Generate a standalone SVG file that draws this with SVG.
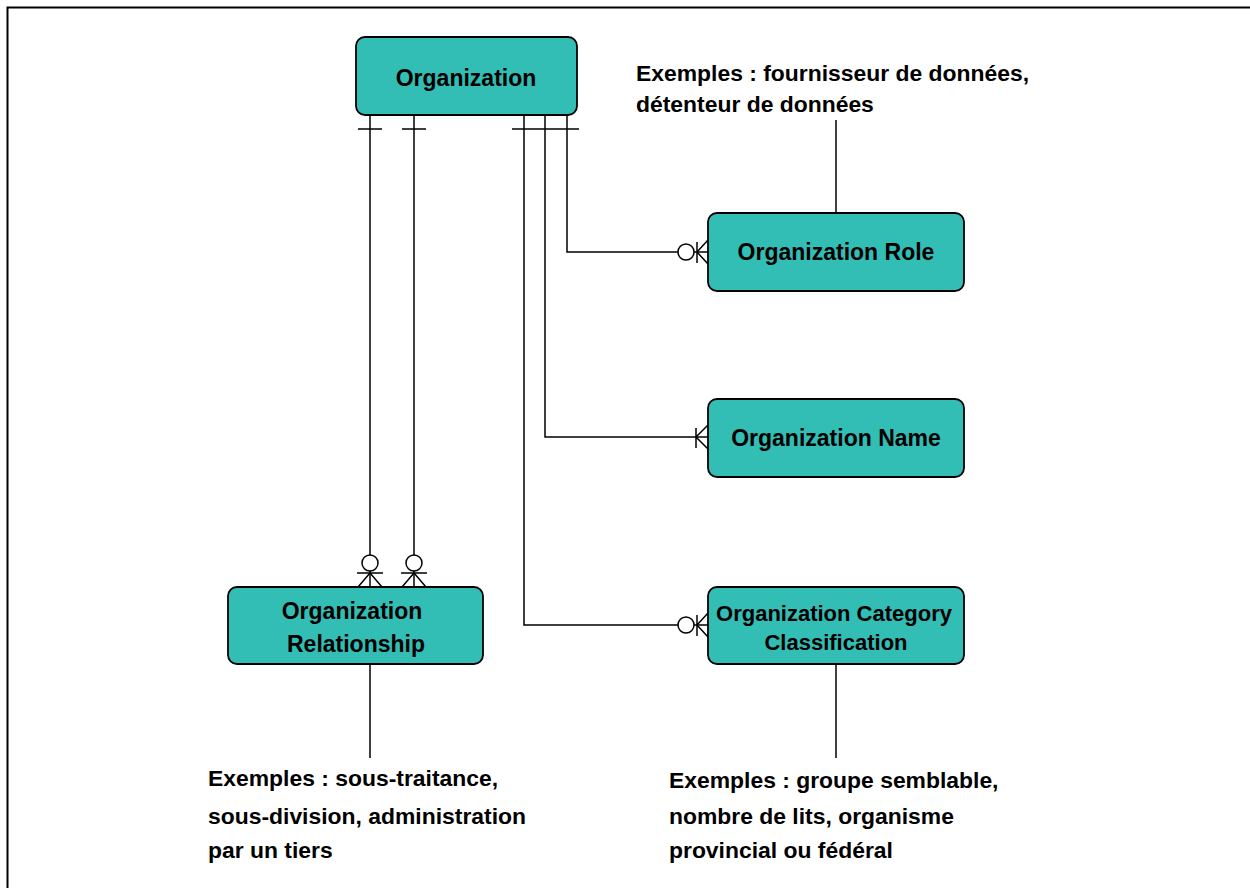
<svg xmlns="http://www.w3.org/2000/svg" width="1250" height="888" viewBox="0 0 1250 888">
<style>
.box{fill:#32bdb5;stroke:#000;stroke-width:1.8}
.t{font-family:"Liberation Sans",Arial,sans-serif;font-weight:bold;font-size:23px;fill:#000;text-anchor:middle}
.n{font-family:"Liberation Sans",Arial,sans-serif;font-weight:bold;font-size:22.9px;fill:#000}
.c{fill:none;stroke:#000;stroke-width:1.5}
</style>
<rect x="0" y="0" width="1250" height="888" fill="#fff"/>
<path d="M7.5,888 V7.5 H1250" fill="none" stroke="#000" stroke-width="2"/>
<g id="connectors" class="c">
  <path d="M370,115 V587"/>
  <path d="M414,115 V587"/>
  <path d="M358,129 H382 M402,129 H426"/>
  <path d="M512,129 H579"/>
  <path d="M567,115 V252 H708"/>
  <path d="M545,115 V437 H708"/>
  <path d="M524,115 V625 H708"/>
  <circle cx="370" cy="563" r="8" fill="#fff"/>
  <circle cx="414" cy="563" r="8" fill="#fff"/>
  <path d="M357,573 H383 M370,573 L358,587 M370,573 L382,587"/>
  <path d="M401,573 H427 M414,573 L402,587 M414,573 L426,587"/>
  <circle cx="686" cy="252" r="8" fill="#fff"/>
  <path d="M697,242 V263 M697,252 L708,240 M697,252 L708,264"/>
  <path d="M696,428 V448 M696,437 L708,425 M696,437 L708,449"/>
  <circle cx="686" cy="625" r="8" fill="#fff"/>
  <path d="M697,615 V636 M697,625 L708,613 M697,625 L708,637"/>
  <path d="M836,120 V213"/>
  <path d="M370,665 V758"/>
  <path d="M836,665 V758"/>
</g>
<g id="organization">
  <rect class="box" x="356" y="37" width="221" height="78" rx="9"/>
  <text class="t" x="466" y="86">Organization</text>
</g>
<g id="organization-role">
  <rect class="box" x="708" y="213" width="256" height="78" rx="9"/>
  <text class="t" x="836" y="260">Organization Role</text>
</g>
<g id="organization-name">
  <rect class="box" x="708" y="399" width="256" height="78" rx="9"/>
  <text class="t" x="836" y="446">Organization Name</text>
</g>
<g id="organization-category">
  <rect class="box" x="708" y="587" width="256" height="77" rx="9"/>
  <text class="t" x="834" y="621" style="font-size:22px">Organization Category</text>
  <text class="t" x="836" y="650" style="font-size:22px">Classification</text>
</g>
<g id="organization-relationship">
  <rect class="box" x="228" y="587" width="255" height="77" rx="9"/>
  <text class="t" x="352" y="619">Organization</text>
  <text class="t" x="356" y="652">Relationship</text>
</g>
<g id="note-role">
  <text class="n" x="636" y="81">Exemples : fournisseur de données,</text>
  <text class="n" x="636" y="112">détenteur de données</text>
</g>
<g id="note-relationship">
  <text class="n" x="208" y="786">Exemples : sous-traitance,</text>
  <text class="n" x="208" y="824">sous-division, administration</text>
  <text class="n" x="208" y="858">par un tiers</text>
</g>
<g id="note-category">
  <text class="n" x="669" y="788">Exemples : groupe semblable,</text>
  <text class="n" x="669" y="824">nombre de lits, organisme</text>
  <text class="n" x="669" y="858">provincial ou fédéral</text>
</g>
</svg>
